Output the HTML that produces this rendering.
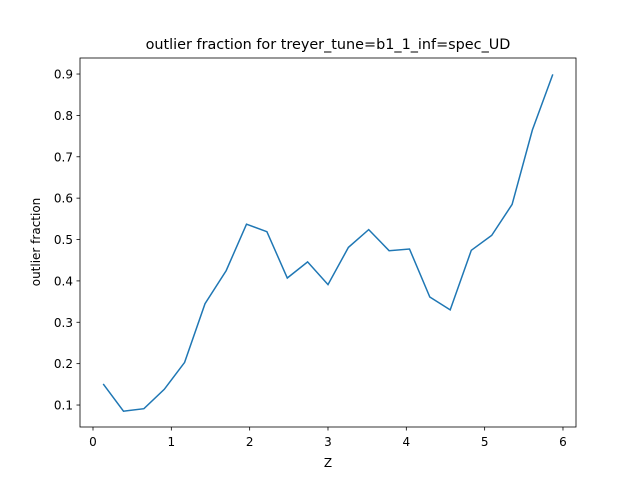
<!DOCTYPE html>
<html><head><meta charset="utf-8"><style>
body{margin:0;background:#fff;}
svg{font-family:"DejaVu Sans","Liberation Sans",sans-serif;}
</style></head><body>
<svg id="chart" width="640" height="480" xmlns="http://www.w3.org/2000/svg">
<rect width="640" height="480" fill="#fff"/>
<text x="328" y="49" text-anchor="middle" font-size="14.4">outlier fraction for treyer_tune=b1_1_inf=spec_UD</text>
<g id="xticks"></g>
<g id="yticks"></g>
<text x="328" y="467" text-anchor="middle" font-size="12">Z</text>
<text transform="translate(40,242) rotate(-90)" text-anchor="middle" font-size="12">outlier fraction</text>
<polyline id="line" fill="none" stroke="#1f77b4" stroke-width="1.5"/>
<rect x="80" y="58" width="496" height="369" fill="none" stroke="#000" stroke-width="0.8"/>
</svg>
<script>
const zValues = [0.13,0.39,0.65,0.91,1.17,1.43,1.70,1.96,2.22,2.48,2.74,3.00,3.26,3.52,3.78,4.04,4.30,4.56,4.83,5.09,5.35,5.61,5.87];
const outlierFraction = [0.151,0.085,0.091,0.138,0.203,0.345,0.425,0.537,0.519,0.407,0.446,0.391,0.481,0.524,0.473,0.477,0.361,0.330,0.474,0.510,0.585,0.765,0.899];
const xTicks = [0,1,2,3,4,5,6];
const yTicks = [0.1,0.2,0.3,0.4,0.5,0.6,0.7,0.8,0.9];
const ns="http://www.w3.org/2000/svg";
function xs(v){return 93+v*78.33;}
function ys(v){return 446.4-v*413.75;}
const pts=zValues.map((z,i)=>xs(z).toFixed(1)+","+ys(outlierFraction[i]).toFixed(1)).join(" ");
document.getElementById("line").setAttribute("points",pts);
const xg=document.getElementById("xticks");
xTicks.forEach(t=>{
  const l=document.createElementNS(ns,"line");
  l.setAttribute("x1",xs(t));l.setAttribute("x2",xs(t));l.setAttribute("y1",427);l.setAttribute("y2",430.5);l.setAttribute("stroke","#000");l.setAttribute("stroke-width","0.8");
  
  
  xg.appendChild(l);
  const tx=document.createElementNS(ns,"text");
  tx.setAttribute("x",xs(t));tx.setAttribute("y",446);tx.setAttribute("text-anchor","middle");tx.setAttribute("font-size","12");
  tx.textContent=t;
  
  
  xg.appendChild(tx);
});
const yg=document.getElementById("yticks");
yTicks.forEach(t=>{
  const l=document.createElementNS(ns,"line");
  l.setAttribute("x1",76.5);l.setAttribute("x2",80);l.setAttribute("y1",ys(t));l.setAttribute("y2",ys(t));l.setAttribute("stroke","#000");l.setAttribute("stroke-width","0.8");
  
  
  yg.appendChild(l);
  const tx=document.createElementNS(ns,"text");
  tx.setAttribute("x",73);tx.setAttribute("y",ys(t)+4.5);tx.setAttribute("text-anchor","end");tx.setAttribute("font-size","12");
  tx.textContent=t.toFixed(1);
  
  
  yg.appendChild(tx);
});
</script>
</body></html>
